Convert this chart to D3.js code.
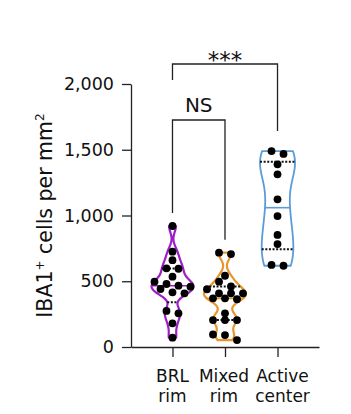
<!DOCTYPE html>
<html><head><meta charset="utf-8">
<script src="https://cdn.jsdelivr.net/npm/d3@7"></script>
<style>body{margin:0;background:#fff}svg{display:block}text{font-family:"DejaVu Sans",sans-serif;fill:#111}</style>
</head><body>
<svg id="c" width="351" height="414"></svg>
<script>
// ---- data ----
const categories = ["BRL rim", "Mixed rim", "Active center"];
const labelLines = [["BRL", "rim"], ["Mixed", "rim"], ["Active", "center"]];
const brlRim = [920, 725, 660, 598, 595, 535, 497, 479, 466, 459, 441, 416, 408, 274, 256, 180, 71];
const mixedRim = [717, 707, 542, 497, 460, 439, 408, 408, 408, 370, 370, 363, 256, 205, 205, 205, 95, 91, 53];
const activeCenter = [1490, 1468, 1389, 1313, 1123, 996, 852, 783, 624, 618];
const yTicks = [0, 500, 1000, 1500, 2000];
const sigLabels = ["NS", "***"];
const sigPairs = [[0, 1], [0, 2]];

// ---- styles ----
const colors = ["#a01ec8", "#e8952c", "#5b9bd8"];
const violinHalfWidth = [21, 21, 17.5];
const bwFactor = [0.5, 0.5, 0.75];
const labelShift = [0, -1, 5];

const groups = [brlRim, mixedRim, activeCenter];

// ---- layout ----
const svg = d3.select("#c");
const x = d3.scalePoint().domain(categories).range([131, 319]).padding(0.79);
const y = d3.scaleLinear().domain([0, 2000]).range([347, 84]);

// y axis
const yAxis = svg.append("g").attr("transform", "translate(131,0)")
  .call(d3.axisLeft(y).tickValues(yTicks).tickSize(9).tickSizeOuter(0).tickPadding(8).tickFormat(d3.format(",")));
yAxis.selectAll("text").style("font-size", "17.5px").style("font-family", '"DejaVu Sans",sans-serif').attr("fill", "#111");
yAxis.selectAll("line,path").attr("stroke", "#222").attr("stroke-width", 1.3);

// x axis
const xAxis = svg.append("g").attr("transform", "translate(0,347)")
  .call(d3.axisBottom(x).tickSize(10).tickSizeOuter(0).tickFormat(""));
xAxis.selectAll("line,path").attr("stroke", "#222").attr("stroke-width", 1.3);
categories.forEach((c, i) => {
  const t = svg.append("text").attr("text-anchor", "middle").style("font-size", "17px");
  labelLines[i].forEach((ln, j) => {
    t.append("tspan").attr("x", x(c) + labelShift[i]).attr("y", 381.5 + j * 20.5).text(ln);
  });
});

// y label
const yl = svg.append("text").attr("transform", `translate(52,${(y(0) + y(2000)) / 2}) rotate(-90)`)
  .attr("text-anchor", "middle").style("font-size", "20.5px");
yl.append("tspan").text("IBA1");
yl.append("tspan").attr("dy", -8).style("font-size", "12px").text("+");
yl.append("tspan").attr("dy", 8).text(" cells per mm");
yl.append("tspan").attr("dy", -8).style("font-size", "12px").text("2");

// ---- stats helpers ----
function quant(vals, p) {
  const s = vals.slice().sort((a, b) => a - b), n = s.length;
  let pos = (n + 1) * p; if (pos < 1) pos = 1; if (pos > n) pos = n;
  const lo = Math.floor(pos), f = pos - lo;
  return lo >= n ? s[n - 1] : s[lo - 1] + f * (s[lo] - s[lo - 1]);
}
function bandwidth(vals, k) {
  const sd = d3.deviation(vals), iqr = quant(vals, 0.75) - quant(vals, 0.25);
  return k * 0.9 * Math.min(sd, iqr / 1.34) * Math.pow(vals.length, -0.2);
}
function densFn(vals, k) {
  const h = bandwidth(vals, k);
  return v => d3.mean(vals, xi => Math.exp(-0.5 * ((v - xi) / h) ** 2)) / (h * Math.sqrt(2 * Math.PI));
}

const dens = groups.map((g, i) => densFn(g, bwFactor[i]));
const curves = groups.map((vals, i) => {
  const lo = d3.min(vals), hi = d3.max(vals);
  return d3.range(0, 121).map(k => { const v = lo + (hi - lo) * k / 120; return [v, dens[i](v)]; });
});
const wScales = curves.map((c, i) => d3.scaleLinear().domain([0, d3.max(c, d => d[1])]).range([0, violinHalfWidth[i]]));

// ---- violins ----
groups.forEach((vals, i) => {
  const cx = x(categories[i]);
  const w = wScales[i];
  const area = d3.area().y(d => y(d[0])).x0(d => cx - w(d[1])).x1(d => cx + w(d[1])).curve(d3.curveBasis);
  svg.append("path").attr("d", area(curves[i])).attr("fill", "none")
    .attr("stroke", colors[i]).attr("stroke-width", i === 2 ? 1.8 : 2.2).attr("stroke-linejoin", "round");
  const med = quant(vals, 0.5);
  svg.append("line").attr("x1", cx - w(dens[i](med))).attr("x2", cx + w(dens[i](med)))
    .attr("y1", y(med)).attr("y2", y(med)).attr("stroke", colors[i]).attr("stroke-width", 1.6);
  [0.25, 0.75].forEach(p => {
    const q = quant(vals, p);
    svg.append("line").attr("x1", cx - w(dens[i](q))).attr("x2", cx + w(dens[i](q)))
      .attr("y1", y(q)).attr("y2", y(q)).attr("stroke", "#111").attr("stroke-width", 2)
      .attr("stroke-dasharray", "2,1.6");
  });
});

// ---- dots (row-binned swarm) ----
groups.forEach((vals, i) => {
  const cx = x(categories[i]);
  const bins = d3.groups(vals.slice().sort((a, b) => b - a), v => Math.floor(v / 50));
  bins.forEach(([, arr]) => {
    arr.forEach((v, k) => {
      svg.append("circle").attr("cx", cx + (k - (arr.length - 1) / 2) * 12).attr("cy", y(v))
        .attr("r", 3.9).attr("fill", "#000");
    });
  });
});

// ---- significance brackets ----
const bar = [120, 64];
const legGap = [13, 20];
sigPairs.forEach(([a, b], k) => {
  const xa = x(categories[a]), xb = x(categories[b]);
  const endA = k === 0 ? y(d3.max(groups[a])) - legGap[k] : bar[0] - 40;
  const endB = y(d3.max(groups[b])) - legGap[k];
  svg.append("path").attr("d", `M${xa},${endA}V${bar[k]}H${xb}V${endB}`)
    .attr("fill", "none").attr("stroke", "#222").attr("stroke-width", 1.3);
  svg.append("text").attr("x", (xa + xb) / 2).attr("y", k === 0 ? bar[k] - 8.5 : bar[k] + 4)
    .attr("text-anchor", "middle").style("font-size", k === 0 ? "20px" : "23px").text(sigLabels[k]);
});
</script>
</body></html>
